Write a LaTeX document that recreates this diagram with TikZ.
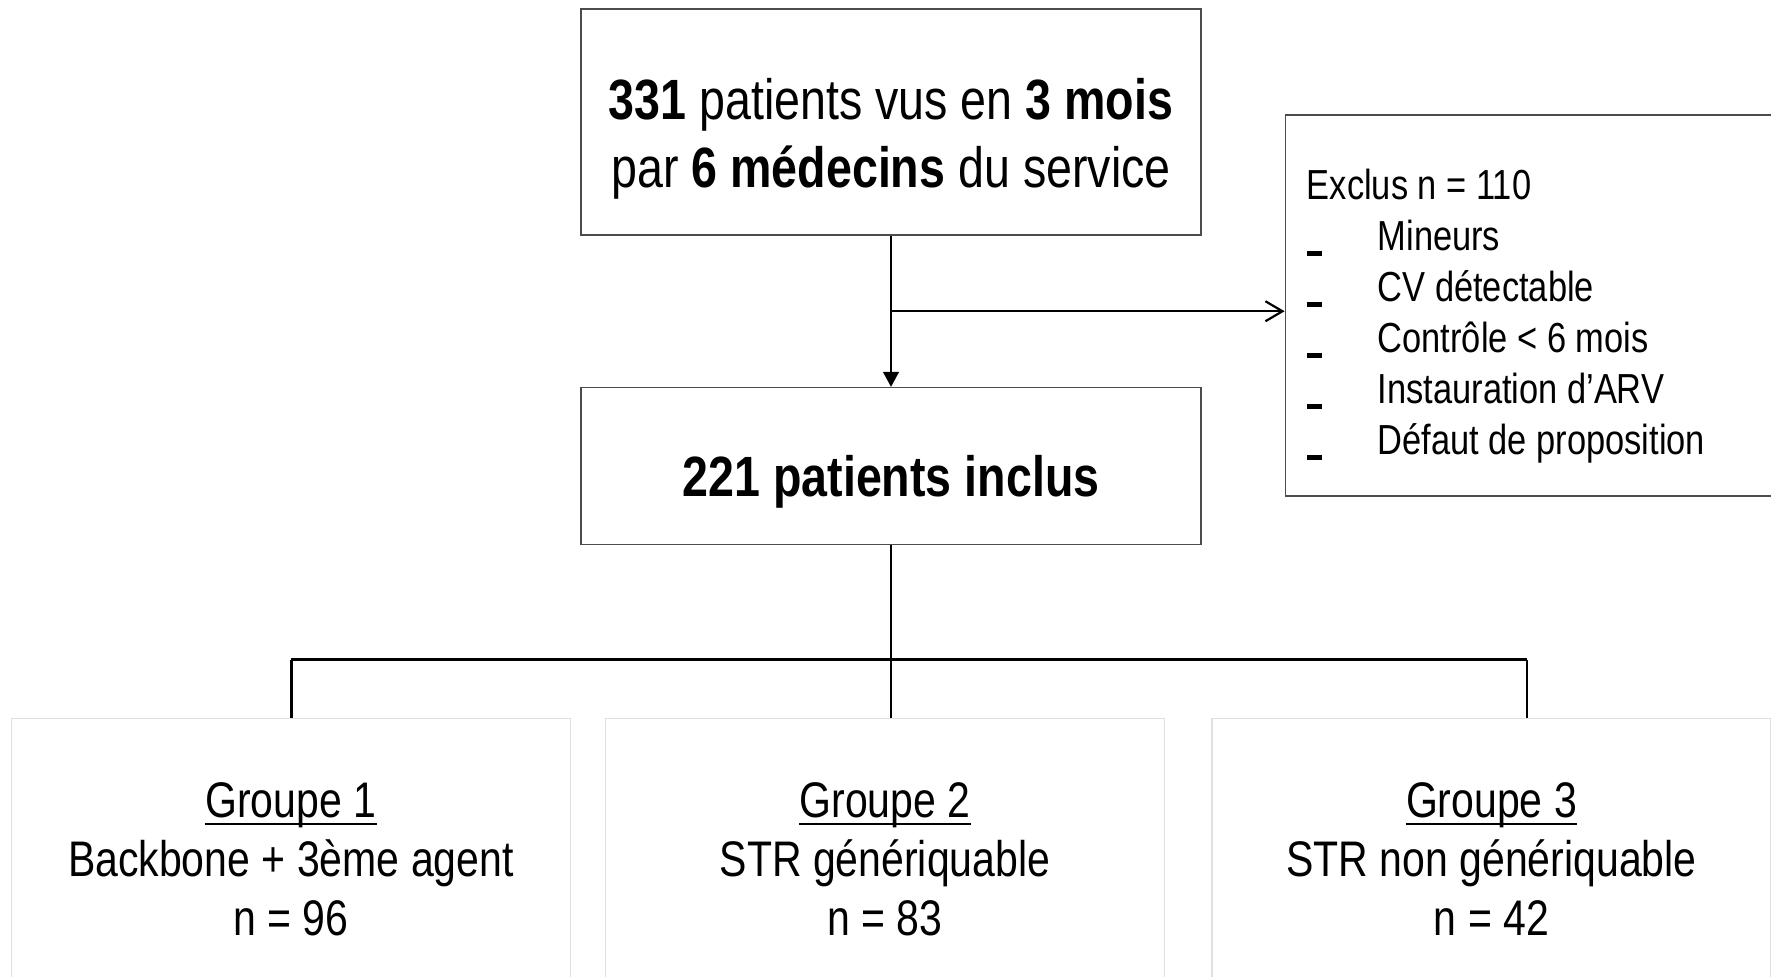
\documentclass[tikz,border=0pt]{standalone}
\usepackage{fontspec}
\setmainfont{Liberation Sans}[FakeStretch=0.82]
\usetikzlibrary{arrows.meta,calc}
\begin{document}
\begin{tikzpicture}[x=0.5pt,y=-0.5pt,
  boxdark/.style={draw=black!70,line width=0.6pt,inner sep=0,fill=white},
  boxlight/.style={draw=black!12,line width=0.6pt,inner sep=0,fill=white},
  txt/.style={inner sep=0,anchor=base},
  txtl/.style={inner sep=0,anchor=base west},
  bigfont/.style={font=\fontsize{28.4}{34}\selectfont},
  exfont/.style={font=\fontsize{21}{25.7}\selectfont},
  grpfont/.style={font=\fontsize{25}{29.4}\selectfont},
  conn/.style={line width=1.15pt,black},
  dashmark/.style={fill=black,draw=none,minimum width=7.5pt,minimum height=2.2pt,inner sep=0}]
\clip (0,0) rectangle (1771,977);
\fill[white] (0,0) rectangle (1771,977);
% boxes
\node[boxdark,minimum width=310pt,minimum height=113pt] (top) at (891,122) {};
\node[boxdark,minimum width=310pt,minimum height=78.5pt] (mid) at (891,466) {};
\node[boxdark,minimum width=282.5pt,minimum height=190.5pt] (excl) at (1567.7,305.5) {};
\node[boxlight,minimum width=279.5pt,minimum height=140.8pt] (g1) at (290.85,859) {};
\node[boxlight,minimum width=279.5pt,minimum height=140.8pt] (g2) at (885,859) {};
\node[boxlight,minimum width=279.5pt,minimum height=140.8pt] (g3) at (1491.5,859) {};
% top text
\node[txt,bigfont] (t1) at (891,119.7) {\textbf{331} patients vus en \textbf{3 mois}};
\node[txt,bigfont] (t2) at (891,187.5) {par \textbf{6 médecins} du service};
% middle text
\node[txt,bigfont] (m1) at (891,497) {\textbf{221 patients inclus}};
% exclusion text
\node[txtl,exfont] (e0) at (1306.5,200) {Exclus n = 110};
\node[txtl,exfont] (e1) at (1377.3,250.5) {Mineurs};
\node[txtl,exfont] (e2) at (1377.3,301.5) {CV détectable};
\node[txtl,exfont] (e3) at (1377.3,352.5) {Contrôle < 6 mois};
\node[txtl,exfont] (e4) at (1377.3,403.5) {Instauration d’ARV};
\node[txtl,exfont] (e5) at (1377.3,454.5) {Défaut de proposition};
\foreach \i/\y in {1/253.5,2/304.5,3/355.5,4/406.5,5/457.5}{
  \node[dashmark] (d\i) at (1314.5,\y) {};
}
% group texts
\foreach \n/\x/\a/\b in {1/290.85/{Backbone + 3ème agent}/{n = 96},
                         2/885/{STR génériquable}/{n = 83},
                         3/1491.5/{STR non génériquable}/{n = 42}}{
  \node[txt,grpfont] (ga\n) at (\x,817.8) {Groupe \n};
  \node[txt,grpfont] (gb\n) at (\x,876.5) {\a};
  \node[txt,grpfont] (gc\n) at (\x,935.2) {\b};
  \draw[line width=0.9pt] ([yshift=-2.9pt]ga\n.base west) -- ([yshift=-2.9pt]ga\n.base east);
}
% connectors
\coordinate (j) at ($(top.south)!0.5!(mid.north)$);
\draw[conn,-{Triangle[length=7.5pt,width=7.8pt]}] (top.south) -- (mid.north);
\draw[conn,-{Straight Barb[length=8.5pt,width=10pt,line width=1.1pt]}] (j) -- (j -| excl.west);
\coordinate (br) at (891,659.6);
\coordinate (c1) at (291.4,659.6);
\coordinate (c3) at (1527,659.6);
\draw[conn] (mid.south) -- (br);
\draw[conn] (c1) -- (c3);
\draw[conn] (c1) -- (c1 |- g1.north);
\draw[conn] (br) -- (br |- g2.north);
\draw[conn] (c3) -- (c3 |- g3.north);
\end{tikzpicture}
\end{document}
